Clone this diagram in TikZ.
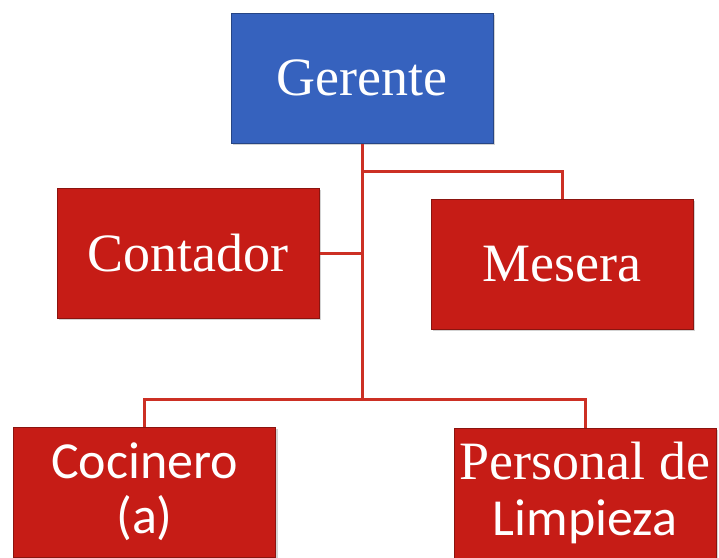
\documentclass[tikz,border=0pt]{standalone}
\usepackage{fontspec}
\setmainfont{Liberation Serif}
\newfontfamily\SansFont{Carlito}
\usepackage{xcolor}
\definecolor{ColR}{RGB}{198,28,22}
\definecolor{ColB}{RGB}{54,98,190}
\definecolor{ColE}{RGB}{204,48,36}
\usepackage{tikz}
\usetikzlibrary{shadows}
\tikzstyle{Box}=[rectangle,fill=ColR,draw=ColR!70!black,line width=1pt,
minimum width=262pt,minimum height=130pt,inner sep=2pt,text=white,
align=center,drop shadow={shadow xshift=2pt,shadow yshift=-2pt,opacity=.35},
font=\fontsize{54}{56}\selectfont]
\tikzstyle{BoxTop}=[Box,fill=ColB,draw=ColB!70!black]
\tikzstyle{Edge}=[draw=ColE,line width=3pt]
\tikzstyle{Sans}=[font=\SansFont\fontsize{52}{55}\selectfont]

\begin{document}
\begin{tikzpicture}[x=1pt,y=-1pt]
        \useasboundingbox(0,0)rectangle(719,557);
        \node[BoxTop](ger)at(362,78){Gerente};
        \node[Box](con)at(188,253){Contador};
        \node[Box](mes)at(562,264){Mesera};
        \node[Box,Sans](coc)at(144.5,492){Cocinero\\(a)};
        \node[Box](per)at(585,493)
            {Personal de\\{\SansFont\fontsize{52}{55}\selectfont Limpieza}};
        \coordinate(mj)at(362,171);
        \coordinate(hub)at(362,399);
        \draw[Edge](ger.south)--(hub);
        \draw[Edge](mj)-|(mes.north);
        \draw[Edge](con.east)--(con.east-|ger.south);
        \draw[Edge](coc.north)|-(hub);
        \draw[Edge](hub)-|(per.north);
    \end{tikzpicture}
\end{document}
